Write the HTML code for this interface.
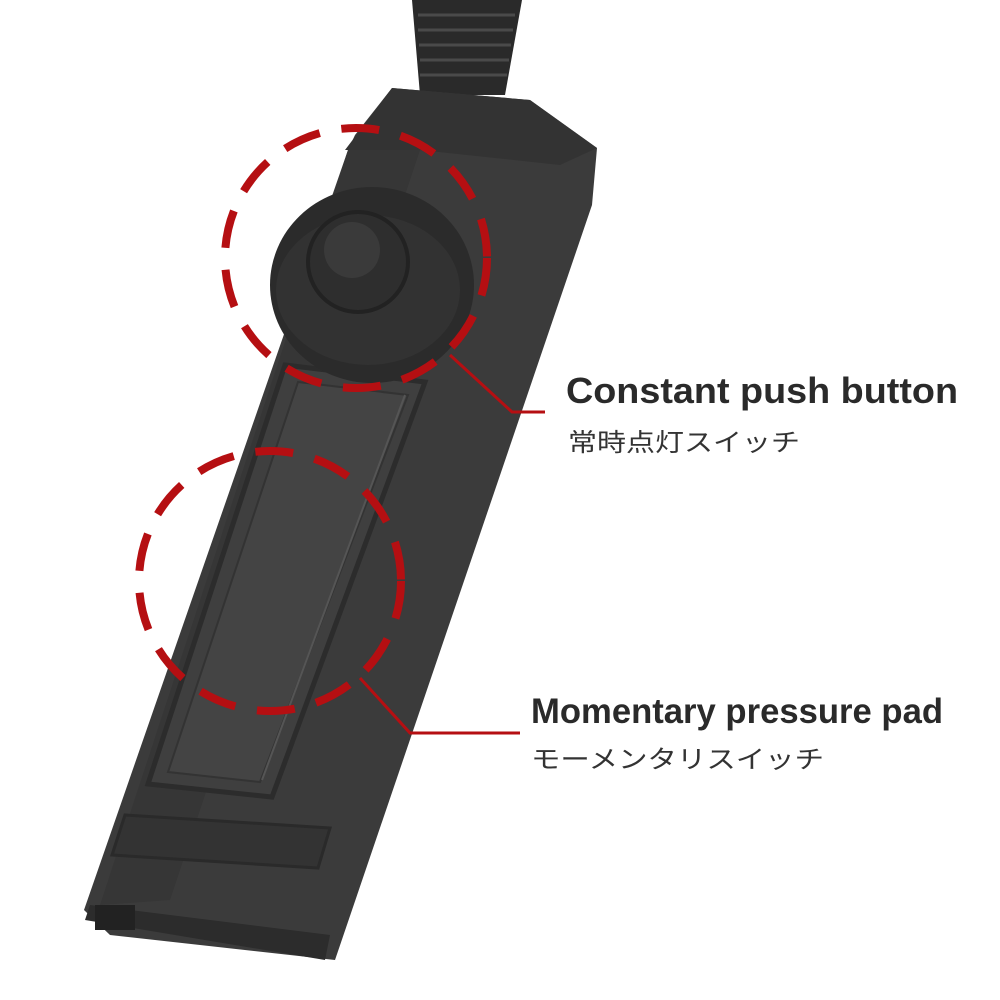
<!DOCTYPE html>
<html><head><meta charset="utf-8"><style>
html,body{margin:0;padding:0;background:#fff;}
svg{display:block}
</style></head><body>
<svg width="1000" height="1000" viewBox="0 0 1000 1000" xmlns="http://www.w3.org/2000/svg">
<rect width="1000" height="1000" fill="#fff"/>
<polygon points="412,0 522,0 505,95 420,95" fill="#2a2a2a"/>
<g stroke="#4a4a4a" stroke-width="3">
<line x1="418" y1="15" x2="515" y2="15"/><line x1="418" y1="30" x2="513" y2="30"/>
<line x1="419" y1="45" x2="511" y2="45"/><line x1="420" y1="60" x2="509" y2="60"/>
<line x1="420" y1="75" x2="507" y2="75"/>
</g>
<polygon points="392,88 530,100 597,148 592,205 335,960 110,935 84,910 348,150 355,135" fill="#3b3b3b"/>
<polygon points="345,150 392,88 530,100 597,148 560,165 420,150" fill="#333"/>
<polygon points="348,150 420,150 170,900 100,905" fill="#363636"/>
<!-- pad recess (parallelogram) -->
<polygon points="285,365 425,382 272,797 148,784" fill="#3f3f3f" stroke="#2c2c2c" stroke-width="5"/>
<polygon points="298,382 408,395 260,782 168,772" fill="#444" stroke="#333" stroke-width="2"/>
<line x1="405" y1="395" x2="262" y2="780" stroke="#555" stroke-width="2"/>
<polygon points="125,815 330,828 318,868 112,855" fill="#333" stroke="#2a2a2a" stroke-width="3"/>
<polygon points="90,905 330,935 325,960 85,920" fill="#2c2c2c"/>
<rect x="95" y="905" width="40" height="25" fill="#222"/>
<ellipse cx="372" cy="285" rx="102" ry="98" fill="#2b2b2b"/>
<ellipse cx="368" cy="290" rx="92" ry="75" fill="#323232"/>
<circle cx="358" cy="262" r="50" fill="#2e2e2e" stroke="#222" stroke-width="4"/>
<circle cx="352" cy="250" r="28" fill="#3a3a3a"/>
<g fill="none" stroke="#b50f12" stroke-width="8" stroke-dasharray="38 22">
<ellipse cx="356" cy="258" rx="131" ry="130"/>
<ellipse cx="270" cy="581" rx="131" ry="130"/>
</g>
<g fill="none" stroke="#b50f12" stroke-width="3">
<polyline points="450,355 512,412 545,412"/>
<polyline points="360,678 410,733 520,733"/>
</g>
<g font-family="'Liberation Sans','Noto Sans CJK JP',sans-serif" fill="#2a2a2a">
<text x="566" y="403" font-size="36" font-weight="bold" textLength="392" lengthAdjust="spacingAndGlyphs">Constant push button</text>
<text x="568" y="451" font-size="25" fill="#333" textLength="232" lengthAdjust="spacingAndGlyphs">常時点灯スイッチ</text>
<text x="531" y="723" font-size="35" font-weight="bold" textLength="412" lengthAdjust="spacingAndGlyphs">Momentary pressure pad</text>
<text x="531" y="768" font-size="25" fill="#333" textLength="293" lengthAdjust="spacingAndGlyphs">モーメンタリスイッチ</text>
</g>
</svg>
</body></html>
